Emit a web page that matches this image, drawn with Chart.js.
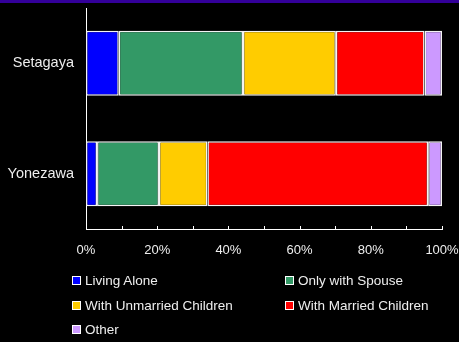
<!DOCTYPE html>
<html>
<head>
<meta charset="utf-8">
<script src="https://cdn.jsdelivr.net/npm/chart.js@4"></script>
<style>
  body { margin: 0; background: #000; }
  #wrap { position: relative; width: 459px; height: 342px; overflow: hidden; background: #000; }
  #band { position: absolute; left: 0; top: 0; width: 459px; height: 3px; background: #330099; }
  #legend { position: absolute; left: 0; top: 0; font-family: "Liberation Sans", Arial, sans-serif; font-size: 13.5px; color: #eee; }
  .item { position: absolute; white-space: nowrap; line-height: 16px; }
  .box { display: inline-block; width: 7px; height: 7px; border: 1px solid #fff; margin-right: 4px; vertical-align: 0px; }
</style>
</head>
<body>
<div id="wrap">
  <canvas id="chart" width="459" height="342"></canvas>
  <div id="band"></div>
  <div id="legend"></div>
</div>
<script>
//categories
const places = ["Setagaya", "Yonezawa"];

//series (percent of households)
const seriesNames = ["Living Alone", "Only with Spouse", "With Unmarried Children", "With Married Children", "Other"];
const livingAlone = [9.2, 3.1];
const onlyWithSpouse = [34.9, 17.4];
const withUnmarried = [26.1, 13.6];
const withMarried = [24.9, 62.0];
const other = [4.9, 3.9];
const seriesColors = ["#0000ff", "#339966", "#ffcc00", "#ff0000", "#cc99ff"];

//x-axis tick labels
const tickValues = [0, 20, 40, 60, 80, 100];

const values = [livingAlone, onlyWithSpouse, withUnmarried, withMarried, other];

/**
 * small tick marks every 10% pointing up from the x axis
 */
const minorTicks = {
    id: 'minorTicks',
    afterDraw(chart) {
        const c = chart.ctx;
        const x = chart.scales.x;
        const y = chart.chartArea.bottom;
        c.save();
        c.strokeStyle = '#ffffff';
        c.lineWidth = 1;
        for (let v = 10; v <= 100; v += 10) {
            const px = Math.round(x.getPixelForValue(v)) + 0.5;
            c.beginPath();
            c.moveTo(px, y);
            c.lineTo(px, y - 3);
            c.stroke();
        }
        c.restore();
    }
};

//no overhang padding, the page layout is fixed
const noPad = (s) => {
    s.paddingLeft = 0;
    s.paddingRight = 0;
    s.paddingTop = 0;
    s.paddingBottom = 0;
};

const ctx = document.getElementById('chart').getContext('2d');
new Chart(ctx, {
    type: 'bar',
    data: {
        labels: places,
        datasets: values.map((d, i) => ({
            label: seriesNames[i],
            data: d,
            backgroundColor: seriesColors[i],
            borderColor: '#f4f4f4',
            borderWidth: 1.5,
            borderSkipped: false,
            barPercentage: 0.59,
            categoryPercentage: 1
        }))
    },
    options: {
        indexAxis: 'y',
        responsive: false,
        animation: false,
        layout: { padding: { left: 0, top: 8, right: 17, bottom: 83 } },
        plugins: { legend: { display: false }, tooltip: { enabled: false } },
        scales: {
            x: {
                stacked: true,
                min: 0,
                max: 100,
                afterFit: (s) => { s.height = 30; noPad(s); },
                afterBuildTicks: (s) => { s.ticks = tickValues.map(v => ({ value: v })); },
                grid: { display: false, drawTicks: false },
                border: { display: true, color: '#ffffff', width: 1 },
                ticks: {
                    color: '#eee',
                    padding: 14,
                    maxRotation: 0,
                    font: { family: 'Liberation Sans', size: 13 },
                    callback: (v) => v + '%'
                }
            },
            y: {
                stacked: true,
                afterFit: (s) => { s.width = 86; noPad(s); },
                grid: { display: false, drawTicks: false },
                border: { display: true, color: '#ffffff', width: 1 },
                ticks: {
                    color: '#eee',
                    padding: 12,
                    font: { family: 'Liberation Sans', size: 14.5 }
                }
            }
        }
    },
    plugins: [minorTicks]
});

//legend, two columns
const legendPos = [[72, 273], [285, 273], [72, 298], [285, 298], [72, 322]];
const legend = document.getElementById('legend');
seriesNames.forEach((name, i) => {
    const el = document.createElement('div');
    el.className = 'item';
    el.style.left = legendPos[i][0] + 'px';
    el.style.top = legendPos[i][1] + 'px';
    el.innerHTML = '<span class="box" style="background:' + seriesColors[i] + '"></span>' + name;
    legend.appendChild(el);
});
</script>
</body>
</html>
